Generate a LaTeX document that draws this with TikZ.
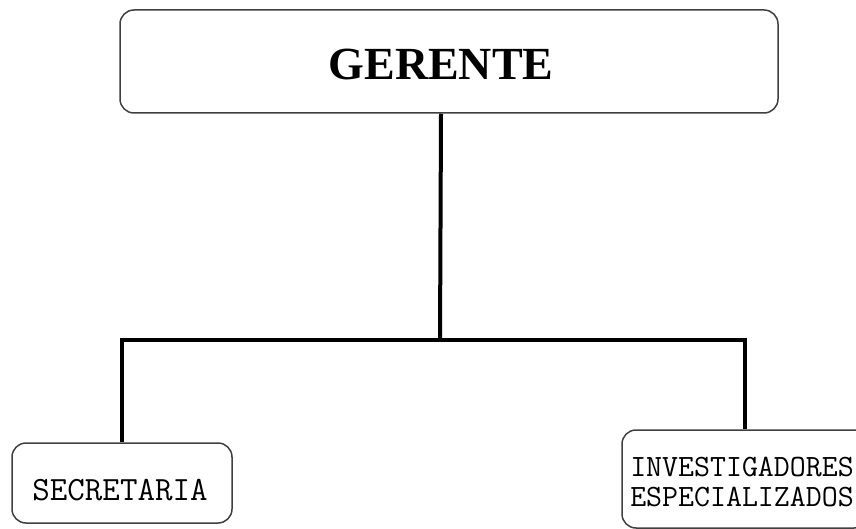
\documentclass[tikz,border=0pt]{standalone}
\usepackage{fontspec}
\setmainfont{Liberation Serif}
\begin{document}
\begin{tikzpicture}[x=1pt, y=-1pt,
  box/.style={shape=rectangle, rounded corners=14pt, draw=black!75, line width=1.5pt, fill=white},
  conn/.style={-, line width=4pt, draw=black}]
\useasboundingbox (0,0) rectangle (856,529);
\clip (0,0) rectangle (856,529);
\node[box, minimum width=658pt, minimum height=103pt] (gerente) at (449,61.5) {};
\node[font=\fontsize{46}{50}\selectfont\bfseries] (titulo) at (441,64) {GERENTE};
\node[box, minimum width=220pt, minimum height=80pt] (secretaria) at (122,483) {};
\node[font=\ttfamily\fontsize{34}{36}\selectfont] (sectxt) at (120,490) {SECRETARIA};
\node[box, minimum width=246pt, minimum height=98pt] (investigadores) at (745,479) {};
\node[align=center, font=\ttfamily\fontsize{31}{30}\selectfont] (invtxt) at (742,482) {INVESTIGADORES\\ESPECIALIZADOS};
\coordinate (bar) at (440,340);
\draw[conn] (titulo |- gerente.south) -- (bar);
\draw[conn] (secretaria.north) |- (bar) -| (investigadores.north);
\end{tikzpicture}
\end{document}
